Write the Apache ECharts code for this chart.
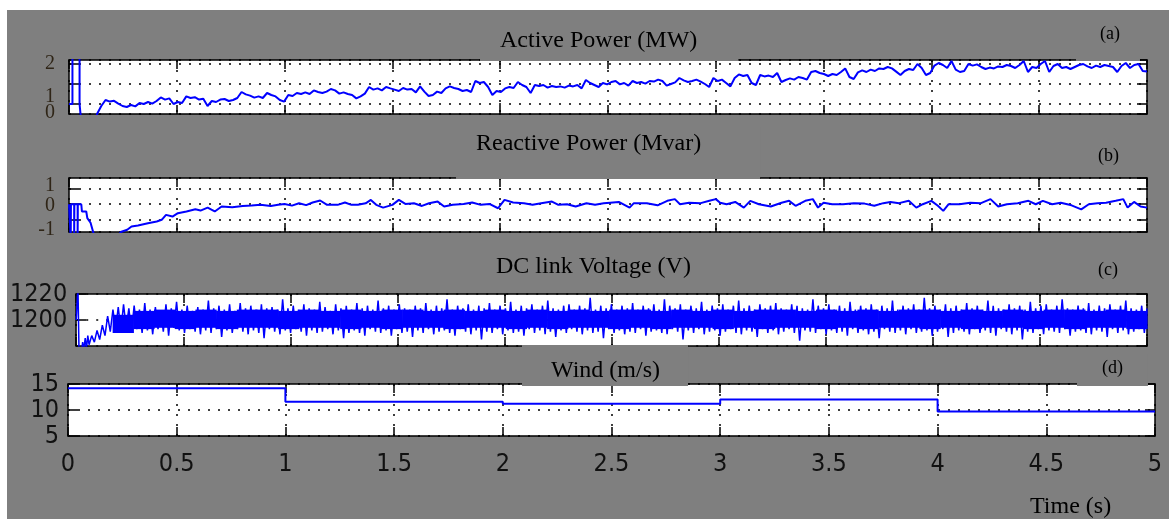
<!DOCTYPE html>
<html>
<head>
<meta charset="utf-8">
<script src="https://cdn.jsdelivr.net/npm/echarts@6/dist/echarts.min.js"></script>
<style>
  html, body { margin: 0; padding: 0; background: #fff; }
  #chart { position: absolute; left: 7px; top: 10px; width: 1162px; height: 509px; }
</style>
</head>
<body>
<div id="chart"></div>
<script>
// (a) active power, MW: start-up transient [time s, value], then sampled trace
const apTransient = [
  [0, 0], [0.016, 0], [0.016, 2.5], [0.049, 2.5], [0.049, 0], [0.056, 0], [0.056, -0.8], [0.125, -0.8]
];
const apStart = 0.13;
const apEnd = 5.0;
const apValues = [
  -0.5, -0.1, 0.2, 0.12, 0.16, 0.02, -0.1, -0.15, -0.05, -0.12, 0.05, 0.0, 0.1, 0.02, 0.15, 0.33, 0.22, 0.28, 0.0, 0.1,
  0.05, 0.38, 0.3, 0.34, 0.22, 0.26, -0.1, 0.15, 0.1, 0.22, 0.25, 0.15, 0.2, 0.3, 0.6, 0.48, 0.42, 0.32, 0.38, 0.3,
  0.55, 0.45, 0.38, 0.2, 0.12, 0.45, 0.4, 0.55, 0.5, 0.58, 0.5, 0.68, 0.6, 0.55, 0.62, 0.75, 0.68, 0.52, 0.58, 0.5,
  0.45, 0.28, 0.38, 0.52, 0.85, 0.72, 0.78, 0.68, 0.85, 0.78, 0.72, 0.65, 0.8, 0.72, 0.75, 0.58, 0.88, 0.62, 0.4, 0.45,
  0.62, 0.55, 0.78, 0.88, 0.8, 0.75, 0.65, 0.7, 0.6, 1.15, 1.05, 1.1, 0.85, 0.45, 0.65, 0.6, 0.78, 0.85, 0.8, 1.1,
  0.95, 0.85, 0.55, 0.95, 0.9, 0.95, 0.82, 0.9, 0.85, 0.88, 0.82, 0.92, 0.88, 0.95, 0.78, 1.2, 1.05, 0.95, 0.85, 1.05,
  0.98, 1.1, 1.15, 0.98, 1.05, 0.92, 1.15, 1.05, 1.1, 1.02, 1.15, 1.12, 1.22, 1.15, 0.92, 1.0, 1.08, 1.3, 1.18, 1.1,
  1.15, 1.22, 1.12, 1.0, 0.85, 1.3, 1.15, 1.22, 1.05, 0.88, 1.3, 1.48, 1.4, 1.45, 1.05, 0.95, 1.45, 1.38, 1.42, 1.35,
  1.55, 1.1, 1.2, 1.28, 1.22, 1.35, 1.3, 1.22, 1.6, 1.65, 1.55, 1.5, 1.4, 1.5, 1.45, 1.6, 1.78, 1.35, 1.25, 1.58,
  1.68, 1.6, 1.72, 1.65, 1.78, 1.75, 1.85, 1.78, 1.62, 1.45, 1.65, 1.75, 1.7, 2.0, 1.8, 1.45, 1.55, 1.92, 2.05, 1.95,
  1.8, 2.15, 1.72, 1.6, 1.65, 2.0, 1.92, 1.98, 1.85, 1.75, 1.82, 1.78, 1.88, 1.85, 1.95, 1.9, 1.8, 1.95, 2.15, 1.6,
  1.85, 1.8, 2.0, 2.15, 1.6, 1.9, 2.0, 1.8, 1.85, 1.75, 1.85, 1.95, 2.0, 1.88, 1.8, 1.92, 1.85, 1.95, 1.9, 1.85,
  1.6, 1.9, 2.05, 1.8, 1.95, 2.0, 1.65, 1.62
];

// (b) reactive power, Mvar
const reactivePower = [
  [0, 0], [0.008, 0], [0.008, -2.2], [0.009, 0], [0.024, 0], [0.024, -2.2], [0.025, 0], [0.04, 0], [0.04, -2.2], [0.041, 0],
  [0.057, 0], [0.06, -0.47], [0.08, -0.47], [0.085, -0.9], [0.1, -1.2], [0.12, -2.2], [0.22, -2.2],
  [0.24, -1.8], [0.27, -1.65], [0.29, -1.44], [0.32, -1.38], [0.366, -1.23], [0.407, -1.12], [0.43, -1.01], [0.45, -0.69], [0.48, -0.8], [0.505, -0.58],
  [0.545, -0.47], [0.586, -0.32], [0.61, -0.41], [0.643, -0.22], [0.676, -0.47], [0.708, -0.15], [0.757, -0.19], [0.806, -0.11], [0.847, -0.09], [0.888, -0.04],
  [0.936, -0.11], [0.97, -0.04], [1.0, 0.02], [1.034, -0.09], [1.067, 0.06], [1.1, -0.06], [1.13, 0.11], [1.165, 0.24], [1.197, -0.04], [1.246, -0.04],
  [1.28, 0.11], [1.31, -0.04], [1.34, -0.04], [1.376, 0.06], [1.4, 0.28], [1.425, -0.04], [1.457, -0.22], [1.5, -0.04], [1.53, 0.28], [1.56, 0.02],
  [1.6, 0.06], [1.637, -0.11], [1.67, 0.06], [1.71, 0.17], [1.74, -0.15], [1.78, -0.04], [1.83, 0.02], [1.87, 0.11], [1.91, -0.04], [1.95, 0.02],
  [1.99, -0.26], [2.02, 0.28], [2.06, 0.11], [2.11, 0.06], [2.15, -0.04], [2.19, 0.06], [2.24, 0.17], [2.27, -0.04], [2.31, 0], [2.35, -0.15],
  [2.4, 0.06], [2.44, -0.04], [2.48, 0.06],
  [2.51, 0.1], [2.55, 0.15], [2.6, -0.22], [2.62, 0.07], [2.68, 0.07], [2.73, -0.07], [2.775, 0.22], [2.81, 0.33], [2.834, 0], [2.876, 0.1],
  [2.93, 0.07], [2.97, 0.22], [3.0, 0.33], [3.02, 0.1], [3.05, 0], [3.09, 0.15], [3.13, -0.22], [3.16, 0.22], [3.2, 0], [3.255, -0.15],
  [3.305, 0.1], [3.34, 0.22], [3.37, -0.1], [3.415, 0.22], [3.45, 0.33], [3.474, -0.22], [3.5, 0.1], [3.54, 0], [3.59, 0], [3.64, 0.07],
  [3.69, 0.04], [3.735, -0.1], [3.777, 0.07], [3.81, 0.15], [3.85, 0.07], [3.895, 0.22], [3.93, -0.22], [3.96, 0], [4.0, 0.22], [4.03, -0.1],
  [4.055, -0.43], [4.08, 0], [4.13, 0], [4.18, 0.1], [4.23, 0.07], [4.274, 0.33], [4.31, -0.15], [4.35, 0], [4.4, 0.07], [4.45, 0.22],
  [4.484, 0], [4.517, 0.22], [4.56, 0], [4.6, 0.1], [4.65, -0.07], [4.695, -0.33], [4.73, 0], [4.77, 0.07], [4.81, 0.1], [4.855, 0.22],
  [4.89, 0.33], [4.91, -0.22], [4.94, 0.15], [4.97, -0.15], [5.0, -0.22]
];

// (c) DC link voltage, V: start-up transient, then sampled ripple peaks
const dcTransient = [
  [0, 1200], [0.008, 1200], [0.008, 1226], [0.013, 1226], [0.013, 1176], [0.025, 1176],
  [0.03, 1183], [0.035, 1177], [0.042, 1186], [0.048, 1178], [0.054, 1188]
];
const dcStart = 0.06;
const dcEnd = 5.0;
const dcRipple = [
  1181, 1188, 1183, 1192, 1185, 1196, 1188, 1203, 1191, 1208, 1193, 1210, 1192, 1212, 1194, 1209, 1191, 1211, 1193, 1208,
  1190, 1213, 1192, 1208, 1189, 1210, 1193, 1207, 1191, 1212, 1188, 1209, 1194, 1214, 1192, 1208, 1190, 1211, 1193, 1207,
  1191, 1210, 1189, 1208, 1192, 1215, 1190, 1209, 1193, 1211, 1187, 1208, 1192, 1212, 1190, 1207, 1193, 1213, 1191, 1209,
  1189, 1211, 1192, 1208, 1190, 1212, 1186, 1209, 1193, 1210, 1191, 1208, 1189, 1216, 1192, 1209, 1190, 1211, 1193, 1208,
  1191, 1212, 1188, 1209, 1192, 1208, 1190, 1214, 1191, 1210, 1193, 1207, 1189, 1212, 1192, 1209, 1186, 1211, 1190, 1208,
  1192, 1213, 1190, 1209, 1188, 1211, 1193, 1208, 1191, 1215, 1190, 1209, 1192, 1211, 1188, 1208, 1193, 1212, 1190, 1209,
  1191, 1208, 1187, 1211, 1192, 1209, 1190, 1213, 1193, 1208, 1189, 1211, 1191, 1209, 1192, 1216, 1190, 1208, 1188, 1211,
  1193, 1209, 1191, 1212, 1189, 1208, 1192, 1211, 1185, 1209, 1191, 1213, 1190, 1208, 1193, 1211, 1189, 1209, 1192, 1214,
  1190, 1208, 1191, 1211, 1188, 1209, 1193, 1212, 1190, 1208, 1192, 1211, 1189, 1215, 1191, 1209, 1187, 1208, 1192, 1211,
  1190, 1212, 1193, 1208, 1191, 1211, 1189, 1209, 1192, 1217, 1190, 1208, 1191, 1211, 1186, 1209, 1193, 1212, 1190, 1208,
  1192, 1211, 1189, 1209, 1191, 1213, 1190, 1208, 1193, 1211, 1188, 1209, 1191, 1212, 1192, 1208, 1190, 1216, 1189, 1211,
  1193, 1209, 1191, 1212, 1185, 1208, 1192, 1211, 1190, 1209, 1193, 1214, 1189, 1208, 1191, 1211, 1192, 1209, 1188, 1212,
  1191, 1208, 1193, 1211, 1190, 1215, 1189, 1209, 1192, 1211, 1191, 1208, 1187, 1212, 1193, 1209, 1190, 1211, 1192, 1213,
  1189, 1209, 1191, 1208, 1193, 1212, 1190, 1211, 1184, 1209, 1192, 1208, 1191, 1216, 1190, 1211, 1193, 1209, 1189, 1212,
  1192, 1208, 1190, 1211, 1191, 1209, 1188, 1214, 1193, 1208, 1190, 1211, 1192, 1209, 1189, 1212, 1191, 1208, 1186, 1211,
  1193, 1209, 1191, 1215, 1190, 1208, 1192, 1211, 1189, 1209, 1193, 1212, 1190, 1208, 1191, 1217, 1192, 1209, 1188, 1211,
  1191, 1208, 1193, 1212, 1187, 1209, 1190, 1211, 1192, 1208, 1191, 1213, 1189, 1209, 1193, 1211, 1190, 1208, 1192, 1215,
  1190, 1211, 1188, 1209, 1193, 1208, 1191, 1212, 1189, 1209, 1192, 1211, 1185, 1208, 1191, 1214, 1190, 1209, 1193, 1211,
  1189, 1212, 1192, 1208, 1191, 1211, 1190, 1216, 1193, 1209, 1188, 1208, 1191, 1211, 1192, 1209, 1190, 1213, 1189, 1208,
  1192, 1211, 1191, 1209, 1187, 1212, 1193, 1208, 1190, 1211, 1192, 1215, 1189, 1209, 1191, 1208, 1193, 1211, 1190, 1209
];
// dense core of the ripple: lower / upper envelope per ~0.1 s slice
const dcBandStart = 0.17;
const dcBandLow = [
  1190, 1193, 1194, 1193, 1194, 1193, 1194, 1194, 1193, 1194, 1194, 1193, 1194, 1193, 1194, 1194, 1193, 1194, 1194, 1193,
  1194, 1193, 1194, 1194, 1193, 1194, 1193, 1194, 1194, 1193, 1194, 1193, 1194, 1194, 1193, 1194, 1193, 1194, 1194, 1193,
  1194, 1193, 1194, 1194, 1193, 1194, 1193, 1194, 1194, 1193
];
const dcBandHigh = [
  1204, 1207, 1208, 1207, 1208, 1207, 1208, 1208, 1207, 1208, 1207, 1208, 1207, 1208, 1208, 1207, 1208, 1207, 1208, 1207,
  1208, 1207, 1208, 1207, 1208, 1208, 1207, 1208, 1207, 1208, 1207, 1208, 1208, 1207, 1208, 1207, 1208, 1207, 1208, 1208,
  1207, 1208, 1207, 1208, 1207, 1208, 1208, 1207, 1208, 1207
];

// (d) wind speed, m/s (step changes each second)
const windTimes = [0, 1, 2, 3, 4, 5];
const windSpeed = [14.2, 11.6, 11.2, 12.0, 9.7, 9.7];

const timeTicks = { min: 0, max: 5, interval: 0.5 };

const BLUE = '#0000ff';
const GREY = '#7f7f7f';
const SERIF = 'Liberation Serif, Times New Roman, serif';
const NARROW = 'Liberation Sans Narrow, DejaVu Sans Condensed, Liberation Sans, sans-serif';

// sampled traces are evenly spaced in time
const sampled = (start, end, values) => {
  const step = (end - start) / (values.length - 1)
  return values.map((v, i) => [start + i * step, v])
}
const activePower = apTransient.concat(sampled(apStart, apEnd, apValues));
const dcVoltage = dcTransient.concat(sampled(dcStart, dcEnd, dcRipple));
const dcBandStep = (dcEnd - dcBandStart) / dcBandLow.length;
const dcBand = dcBandLow.map((lo, i) => [dcBandStart + i * dcBandStep, lo, dcBandHigh[i]]);
const wind = windTimes.map((t, i) => [t, windSpeed[i]]);

// panel boxes (chart coords)
const grids = [
  { left: 62, top: 50, width: 1078, height: 54 },
  { left: 62, top: 168, width: 1078, height: 54 },
  { left: 62, top: 284, width: 1078, height: 52 },
  { left: 61, top: 374, width: 1087, height: 52 }
];

const lineBlack = { color: '#000', width: 1.5 };
const dotted = { color: '#000', width: 1.5, type: [2, 8] };

const xAxes = []
const yAxes = []

const addXAxes = (gi, withLabels) => {
  xAxes.push({
    type: 'value', gridIndex: gi, position: 'bottom', ...timeTicks,
    axisLine: { show: true, onZero: false, lineStyle: lineBlack },
    axisTick: { show: true, inside: true, length: 9, lineStyle: lineBlack },
    axisLabel: withLabels ? {
      show: true, margin: 16, fontFamily: NARROW, fontSize: 25, color: '#111'
    } : { show: false },
    splitLine: { show: true, lineStyle: dotted }
  })
  xAxes.push({
    type: 'value', gridIndex: gi, position: 'top', ...timeTicks,
    axisLine: { show: true, onZero: false, lineStyle: lineBlack },
    axisTick: { show: true, inside: true, length: 9, lineStyle: lineBlack },
    axisLabel: { show: false },
    splitLine: { show: false }
  })
}

const addYAxes = (gi, range, label) => {
  yAxes.push({
    type: 'value', gridIndex: gi, position: 'left', ...range,
    axisLine: { show: true, onZero: false, lineStyle: lineBlack },
    axisTick: { show: true, inside: true, length: 10, lineStyle: lineBlack },
    axisLabel: label,
    splitLine: { show: true, lineStyle: dotted }
  })
  yAxes.push({
    type: 'value', gridIndex: gi, position: 'right', ...range,
    axisLine: { show: true, onZero: false, lineStyle: lineBlack },
    axisTick: { show: true, inside: true, length: 10, lineStyle: lineBlack },
    axisLabel: { show: false },
    splitLine: { show: false }
  })
}

// serif tick labels, some nudged off their tick like in the scope export
const serifLabel = (shifts) => ({
  show: true, margin: 14, fontFamily: SERIF, fontSize: 20, color: '#2f2517',
  showMinLabel: false, showMaxLabel: false,
  formatter: v => shifts[v] ? `{${shifts[v]}|${v}}` : String(v),
  rich: {
    d13: { padding: [26, 0, 0, 0], fontFamily: SERIF, fontSize: 20, color: '#2f2517' },
    d10: { padding: [20, 0, 0, 0], fontFamily: SERIF, fontSize: 20, color: '#2f2517' },
    d9: { padding: [18, 0, 0, 0], fontFamily: SERIF, fontSize: 20, color: '#2f2517' },
    d2: { padding: [4, 0, 0, 0], fontFamily: SERIF, fontSize: 20, color: '#2f2517' },
    u3: { padding: [0, 0, 6, 0], fontFamily: SERIF, fontSize: 20, color: '#2f2517' }
  }
})

const sansLabel = (hideMin) => ({
  show: true, margin: 9, fontFamily: NARROW, fontSize: 25, color: '#111',
  showMinLabel: !hideMin,
  formatter: v => String(v)
})

addXAxes(0, false); addYAxes(0, { min: -0.5, max: 2.2, minInterval: 1, maxInterval: 1 }, serifLabel({ 1: 'd13', 0: 'd9' }))
addXAxes(1, false); addYAxes(1, { min: -1.8, max: 1.7, minInterval: 1, maxInterval: 1 }, serifLabel({ 1: 'u3', 0: 'd2', '-1': 'd10' }))
addXAxes(2, false); addYAxes(2, { min: 1180, max: 1220, interval: 20 }, sansLabel(true))
addXAxes(3, true); addYAxes(3, { min: 5, max: 15, interval: 5 }, sansLabel(false))

const titleText = (fontSize) => ({
  fontFamily: SERIF, fontWeight: 'normal', fontSize, lineHeight: fontSize + 2, color: '#000'
})

const titles = [
  { text: 'Active Power (MW)', left: 473, top: 14, padding: [4, 41, 7, 20], backgroundColor: GREY, textStyle: titleText(24) },
  { text: 'Reactive Power (Mvar)', left: 449, top: 117, padding: [4, 59, 22, 20], backgroundColor: GREY, textStyle: titleText(24) },
  { text: 'DC link Voltage (V)', left: 489, top: 244, padding: 0, textStyle: titleText(24) },
  { text: 'Wind (m/s)', left: 515, top: 335, padding: [13, 28, 2, 29], backgroundColor: GREY, textStyle: titleText(24) },
  { text: '(a)', left: 1069, top: 10, padding: [4, 20, 17, 24], backgroundColor: GREY, textStyle: titleText(18) },
  { text: '(b)', left: 1091, top: 136, padding: 0, textStyle: titleText(18) },
  { text: '(c)', left: 1091, top: 250, padding: 0, textStyle: titleText(18) },
  { text: '(d)', left: 1070, top: 344, padding: [4, 25, 8, 25], backgroundColor: GREY, textStyle: titleText(18) },
  { text: 'Time (s)', left: 1023, top: 484, padding: 0, textStyle: titleText(24) }
]

const lineSeries = (gi, data, width, extra) => ({
  type: 'line', xAxisIndex: gi * 2, yAxisIndex: gi * 2, data,
  showSymbol: false, symbol: 'none', clip: true,
  lineStyle: { color: BLUE, width }, ...extra
})

// solid core of the DC ripple: one filled slice per envelope sample
const bandSeries = {
  type: 'custom', xAxisIndex: 4, yAxisIndex: 4, data: dcBand, clip: true,
  encode: { x: 0, y: [1, 2] },
  renderItem: (params, api) => {
    const t = api.value(0)
    const top = api.coord([t, api.value(2)])
    const bottom = api.coord([t + dcBandStep, api.value(1)])
    return {
      type: 'rect',
      shape: { x: top[0], y: top[1], width: bottom[0] - top[0] + 0.6, height: bottom[1] - top[1] },
      style: { fill: BLUE }
    }
  }
}

const chart = echarts.init(document.getElementById('chart'))
chart.setOption({
  animation: false,
  backgroundColor: GREY,
  title: titles,
  grid: grids.map(g => ({ ...g, show: true, backgroundColor: '#fff', borderWidth: 0 })),
  xAxis: xAxes,
  yAxis: yAxes,
  series: [
    lineSeries(0, activePower, 2),
    lineSeries(1, reactivePower, 2),
    bandSeries,
    lineSeries(2, dcVoltage, 1.5),
    lineSeries(3, wind, 2, { step: 'end' })
  ]
})
</script>
</body>
</html>
